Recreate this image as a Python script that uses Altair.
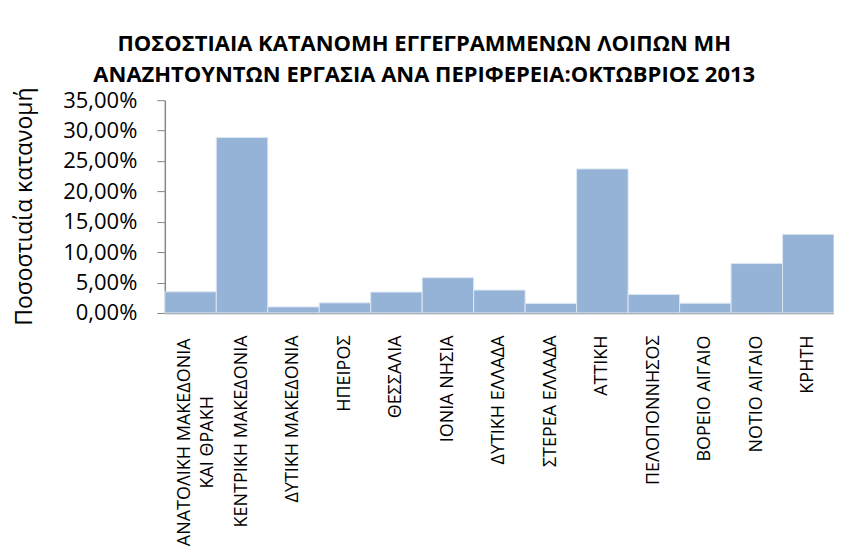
import altair as alt
import pandas as pd

regions = [
    "ΑΝΑΤΟΛΙΚΗ ΜΑΚΕΔΟΝΙΑ|ΚΑΙ ΘΡΑΚΗ",
    "ΚΕΝΤΡΙΚΗ ΜΑΚΕΔΟΝΙΑ",
    "ΔΥΤΙΚΗ ΜΑΚΕΔΟΝΙΑ",
    "ΗΠΕΙΡΟΣ",
    "ΘΕΣΣΑΛΙΑ",
    "ΙΟΝΙΑ ΝΗΣΙΑ",
    "ΔΥΤΙΚΗ ΕΛΛΑΔΑ",
    "ΣΤΕΡΕΑ ΕΛΛΑΔΑ",
    "ΑΤΤΙΚΗ",
    "ΠΕΛΟΠΟΝΝΗΣΟΣ",
    "ΒΟΡΕΙΟ ΑΙΓΑΙΟ",
    "ΝΟΤΙΟ ΑΙΓΑΙΟ",
    "ΚΡΗΤΗ",
]
shares = [0.0348, 0.2886, 0.0100, 0.0166, 0.0343, 0.0580, 0.0376,
          0.0156, 0.2370, 0.0305, 0.0160, 0.0813, 0.1294]
y_ticks = [0, 0.05, 0.10, 0.15, 0.20, 0.25, 0.30, 0.35]

df = pd.DataFrame({"region": regions, "share": shares})

FONT = "Open Sans"
TWO_LINE = "indexof(datum.label, '|') >= 0"

chart = (
    alt.Chart(df)
    .mark_bar(color="#95B3D7", stroke="#DCE6F2", strokeWidth=1)
    .encode(
        x=alt.X(
            "region:N",
            sort=regions,
            scale=alt.Scale(paddingInner=0, paddingOuter=0),
            axis=alt.Axis(
                title=None,
                labelAngle=-90,
                labelAlign=alt.ConditionalAxisLabelAlign(
                    condition={"test": TWO_LINE, "value": "center"}, value="right"
                ),
                labelPadding=alt.ConditionalAxisNumber(
                    condition={"test": TWO_LINE, "value": 129}, value=22
                ),
                labelOffset=alt.ConditionalAxisNumber(
                    condition={"test": TWO_LINE, "value": -6}, value=0
                ),
                labelBaseline="middle",
                labelFont=FONT,
                labelFontSize=18,
                labelColor="#000000",
                labelLimit=400,
                labelLineHeight=23,
                labelExpr="split(datum.label, '|')",
                ticks=False,
                domainColor="#868686",
                domainWidth=1.5,
            ),
        ),
        y=alt.Y(
            "share:Q",
            scale=alt.Scale(domain=[0, 0.35], nice=False),
            axis=alt.Axis(
                values=y_ticks,
                labelExpr="replace(format(datum.value, '.2%'), '.', ',')",
                title="Ποσοστιαία κατανομή",
                titleFont=FONT,
                titleFontSize=23,
                titleFontWeight="normal",
                titleColor="#000000",
                titleX=-140,
                titleY=106,
                titleAngle=-90,
                titleAlign="center",
                titleBaseline="middle",
                labelFont=FONT,
                labelFontSize=22,
                labelColor="#000000",
                labelPadding=20,
                tickSize=8,
                tickColor="#868686",
                domainColor="#868686",
                domainWidth=1.5,
                grid=False,
            ),
        ),
    )
    .properties(
        width=670,
        height=213,
        autosize=alt.AutoSizeParams(type="none"),
        padding={"left": 157, "top": 92, "right": 0, "bottom": 236},
        title=alt.Title(
            text=[
                "ΠΟΣΟΣΤΙΑΙΑ ΚΑΤΑΝΟΜΗ ΕΓΓΕΓΡΑΜΜΕΝΩΝ ΛΟΙΠΩΝ ΜΗ",
                "ΑΝΑΖΗΤΟΥΝΤΩΝ ΕΡΓΑΣΙΑ ΑΝΑ ΠΕΡΙΦΕΡΕΙΑ:ΟΚΤΩΒΡΙΟΣ 2013",
            ],
            font=FONT,
            fontSize=22,
            fontWeight="bold",
            color="#000000",
            anchor="middle",
            frame="bounds",
            lineHeight=31,
            offset=0,
        ),
    )
    .configure_view(stroke=None)
)

chart.save("out.html", embed_options={"renderer": "svg", "actions": False})
